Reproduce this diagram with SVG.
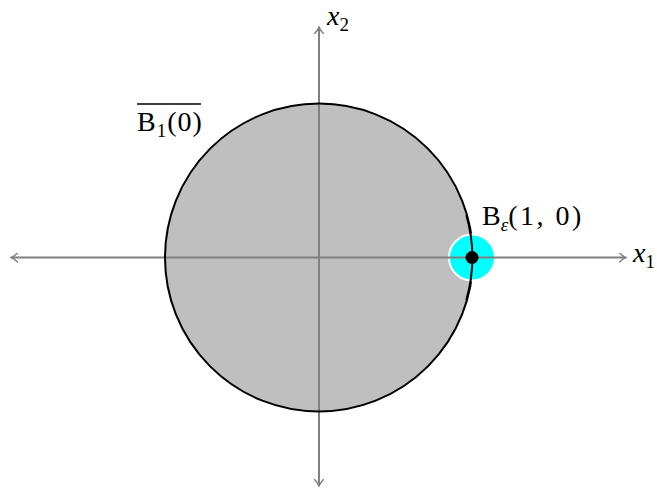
<svg xmlns="http://www.w3.org/2000/svg" width="657" height="489" viewBox="0 0 657 489">
<defs>
<marker id="ah" viewBox="-6 -5 8 10" markerWidth="8" markerHeight="10" refX="0" refY="0" orient="auto-start-reverse" markerUnits="userSpaceOnUse">
<path d="M-5.5,-4.5 Q-2,-1 1,0 Q-2,1 -5.5,4.5" fill="none" stroke="#808080" stroke-width="1.5" stroke-linecap="round"/>
</marker>
<style>
.axis{stroke:#808080;stroke-width:2;fill:none}
.lbl{font-family:"Liberation Serif","DejaVu Serif",serif;font-size:28px;fill:#000}
.var{font-style:italic}
</style>
</defs>
<rect width="657" height="489" fill="#fff"/>
<g id="ball">
<circle cx="319" cy="257.5" r="154" fill="#bfbfbf" stroke="none"/>
</g>
<g id="connectors">
<line class="axis" x1="12" y1="257.5" x2="625" y2="257.5" marker-start="url(#ah)" marker-end="url(#ah)"/>
<line class="axis" x1="319" y1="28" x2="319" y2="485" marker-start="url(#ah)" marker-end="url(#ah)"/>
</g>
<g id="ball-outline">
<circle cx="319" cy="257.5" r="154" fill="none" stroke="#000" stroke-width="2"/>
</g>
<g id="eps-ball">
<circle cx="472" cy="257.5" r="23" fill="#00ffff" stroke="#fff" stroke-width="2"/>
<line x1="448" y1="257.5" x2="496" y2="257.5" class="axis"/>
<path d="M 466.3 215 A 154 154 0 0 1 466.3 300" fill="none" stroke="#000" stroke-width="2"/>
<circle cx="472" cy="257.5" r="6.5" fill="#000"/>
</g>
<g id="labels">
<text class="lbl" x="327" y="25"><tspan class="var">x</tspan><tspan font-size="19" dy="6">2</tspan></text>
<text class="lbl" x="633" y="262"><tspan class="var">x</tspan><tspan font-size="19" dy="6">1</tspan></text>
<text class="lbl" x="137" y="131" letter-spacing="1">B<tspan font-size="19" dy="6">1</tspan><tspan dy="-6">(0)</tspan></text>
<line x1="137" y1="104" x2="201" y2="104" stroke="#000" stroke-width="1.5"/>
<text class="lbl" x="482" y="225">B<tspan font-size="19" dy="6" class="var">ε</tspan><tspan dy="-6" letter-spacing="2.5">(1, 0)</tspan></text>
</g>
</svg>
